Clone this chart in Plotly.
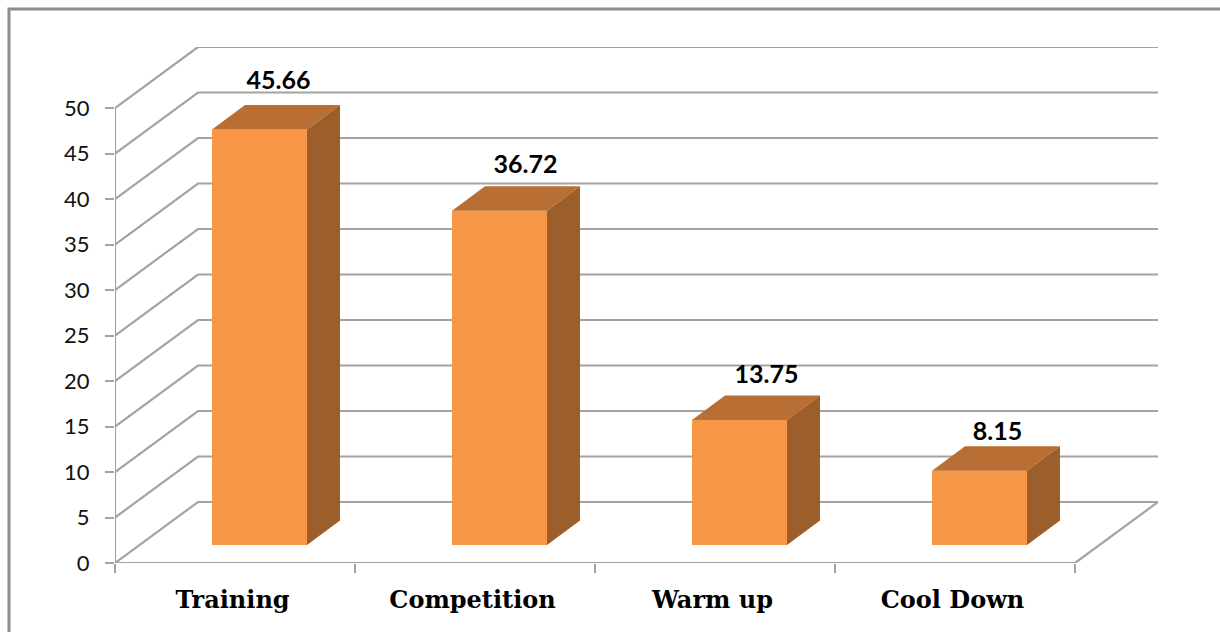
import plotly.graph_objects as go

categories = ["Training", "Competition", "Warm up", "Cool Down"]
values = [45.66, 36.72, 13.75, 8.15]
y_ticks = [0, 5, 10, 15, 20, 25, 30, 35, 40, 45, 50]

# scale of the drawing
W, H = 1220, 632
LEFT, BOTTOM_PX, RIGHT_PX, TOP_PX = 115, 563, 1158, 47
PX_X = (1075 - 115) / 4
PX_Y = (563 - 108) / 50

WALL_DX = (RIGHT_PX - 1075) / PX_X
WALL_DY = (BOTTOM_PX - 502) / PX_Y
BAR_W = 95 / PX_X
BAR_DX = 24.5 / PX_X
BAR_BASE = 18 / PX_Y
DEPTH_X = 33 / PX_X
DEPTH_Y = 24.5 / PX_Y

LABEL_DX = [19, 26, 27, 18]
LABEL_DY = [47, 44, 43, 37]
CAT_SHIFT = -2.5 / PX_X

GRID = "#A3A3A3"
FRONT = "#F79646"
TOP = "#B96F33"
SIDE = "#9C5E2A"
xs = list(range(len(categories)))
x0, x1 = -0.5, len(categories) - 0.5

fig = go.Figure()

# walls and floor
gx, gy = [], []
for v in y_ticks:
    gx += [x0, x0 + WALL_DX, x1 + WALL_DX, None]
    gy += [v, v + WALL_DY, v + WALL_DY, None]
gx += [x0, x0, None, x0, x1, x1 + WALL_DX]
gy += [0, y_ticks[-1], None, 0, 0, WALL_DY]
fig.add_trace(go.Scatter(x=gx, y=gy, mode="lines", line=dict(color=GRID, width=2.2),
                         hoverinfo="skip", showlegend=False, cliponaxis=False, zorder=0))

# front faces
fig.add_trace(go.Bar(x=[i + BAR_DX for i in xs], y=values, base=BAR_BASE, width=BAR_W,
                     marker=dict(color=FRONT, line=dict(width=0)), showlegend=False, zorder=1))

# top and side faces
for i, v in zip(xs, values):
    l = i + BAR_DX - BAR_W / 2
    r = i + BAR_DX + BAR_W / 2
    t = v + BAR_BASE
    fig.add_trace(go.Scatter(
        x=[l, r, r + DEPTH_X, l + DEPTH_X, l],
        y=[t, t, t + DEPTH_Y, t + DEPTH_Y, t],
        mode="lines", fill="toself", fillcolor=TOP, line=dict(width=0, color=TOP),
        hoverinfo="skip", showlegend=False, cliponaxis=False, zorder=1))
    fig.add_trace(go.Scatter(
        x=[r, r + DEPTH_X, r + DEPTH_X, r, r],
        y=[BAR_BASE, BAR_BASE + DEPTH_Y, t + DEPTH_Y, t, BAR_BASE],
        mode="lines", fill="toself", fillcolor=SIDE, line=dict(width=0, color=SIDE),
        hoverinfo="skip", showlegend=False, cliponaxis=False, zorder=1))

# value labels
fig.add_trace(go.Scatter(
    x=[i + BAR_DX + d / PX_X for i, d in zip(xs, LABEL_DX)],
    y=[v + BAR_BASE + d / PX_Y for v, d in zip(values, LABEL_DY)],
    mode="text", text=[f"{v:.2f}" for v in values],
    textposition="middle center",
    textfont=dict(family="Lato", size=25, color="#000000", weight="bold"),
    hoverinfo="skip", showlegend=False, cliponaxis=False, zorder=2))

fig.update_layout(
    width=W, height=H, autosize=False,
    margin=dict(l=LEFT, r=W - RIGHT_PX, t=TOP_PX, b=H - BOTTOM_PX, pad=0),
    paper_bgcolor="white", plot_bgcolor="white",
    xaxis=dict(
        range=[x0, x1 + WALL_DX], showgrid=False, zeroline=False, showline=False,
        tickmode="array", tickvals=[i + CAT_SHIFT for i in xs], ticktext=categories, ticks="",
        ticklabelstandoff=20,
        tickfont=dict(family="DejaVu Serif", size=24, color="#000000", weight="bold"),
        minor=dict(tickmode="array", tickvals=[i - 0.5 for i in range(len(xs) + 1)],
                   ticks="outside", ticklen=9, tickwidth=2, tickcolor=GRID, showgrid=False),
    ),
    yaxis=dict(
        range=[0, y_ticks[-1] + WALL_DY], showgrid=False, zeroline=False, showline=False,
        tickmode="array", tickvals=y_ticks, ticks="outside", ticklen=9, tickwidth=2, tickcolor=GRID,
        ticklabelstandoff=11,
        tickfont=dict(family="Lato", size=22, color="#111111"),
    ),
    shapes=[dict(type="path", xref="paper", yref="paper",
                 path=f"M {(9 - LEFT) / (RIGHT_PX - LEFT)} {(BOTTOM_PX - H - 20) / (BOTTOM_PX - TOP_PX)} "
                      f"L {(9 - LEFT) / (RIGHT_PX - LEFT)} {(BOTTOM_PX - 9) / (BOTTOM_PX - TOP_PX)} "
                      f"L {(W + 20 - LEFT) / (RIGHT_PX - LEFT)} {(BOTTOM_PX - 9) / (BOTTOM_PX - TOP_PX)}",
                 line=dict(color="#8C8C8C", width=3))],
)

fig.write_html("out.html", post_script="document.body.style.margin='0';",
               config=dict(displayModeBar=False))
